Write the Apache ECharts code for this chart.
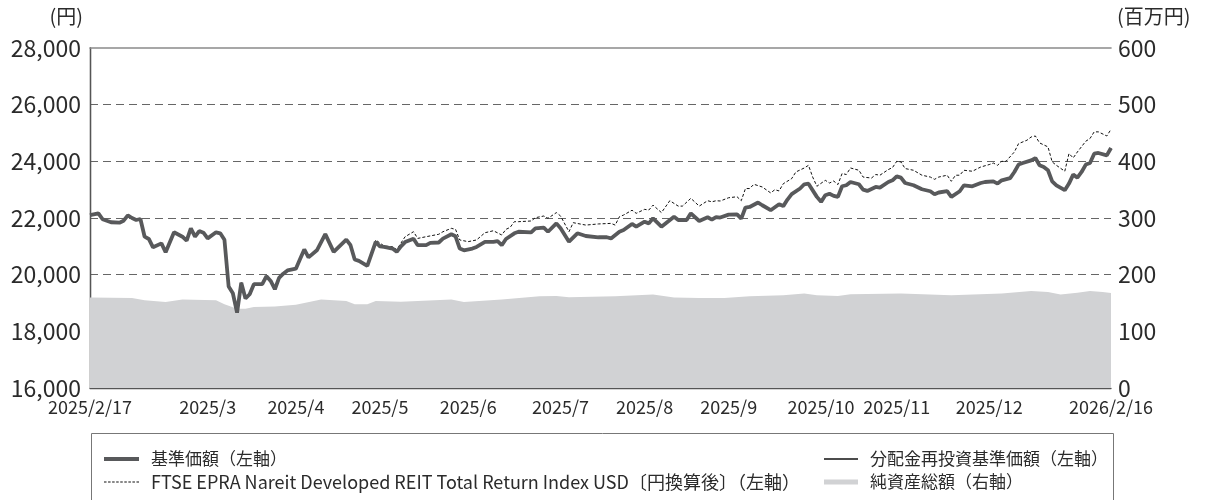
<!DOCTYPE html>
<html>
<head>
<meta charset="utf-8">
<script src="https://cdn.jsdelivr.net/npm/echarts@6/dist/echarts.min.js"></script>
<style>
  html, body { margin: 0; padding: 0; background: #fff; }
  #chart { width: 1209px; height: 500px; }
</style>
</head>
<body>
<div id="chart"></div>
<script>
// x values are trading-day numbers counted from 2025/2/17 (0) to 2026/2/16 (243)
const labelDays = [0, 28, 49, 69, 90, 112, 132, 152, 174, 192, 214, 243]
const labelTexts = ['2025/2/17', '2025/3', '2025/4', '2025/5', '2025/6', '2025/7', '2025/8', '2025/9', '2025/10', '2025/11', '2025/12', '2026/2/16']
const tickDays = [28, 49, 69, 90, 112, 132, 152, 174, 192, 214]

// 基準価額 (円)
const nav = [
  [0, 22100], [2, 22165], [3, 21955], [5, 21850], [7, 21835], [8, 21905], [9, 22095], [10, 22000], [11, 21930], [12, 21965],
  [13, 21340], [14, 21260], [15, 20965], [17, 21105], [18, 20790], [20, 21495], [22, 21340], [23, 21200], [24, 21635], [25, 21340],
  [26, 21540], [27, 21480], [28, 21280], [30, 21495], [31, 21460], [32, 21230], [33, 19580], [34, 19345], [35, 18660], [36, 19715],
  [37, 19160], [38, 19310], [39, 19665], [41, 19665], [42, 19945], [43, 19780], [44, 19485], [45, 19890], [46, 20035], [47, 20150],
  [49, 20210], [50, 20550], [51, 20890], [52, 20610], [54, 20860], [56, 21430], [58, 20805], [61, 21240], [62, 21040], [63, 20535],
  [64, 20485], [66, 20310], [68, 21155], [69, 21000], [70, 20980], [72, 20920], [73, 20805], [74, 21000], [75, 21150], [77, 21270],
  [78, 21040], [80, 21040], [81, 21120], [83, 21135], [84, 21270], [86, 21425], [87, 21355], [88, 20920], [89, 20860], [91, 20920],
  [92, 20980], [94, 21155], [96, 21155], [97, 21180], [98, 21040], [99, 21260], [101, 21460], [102, 21515], [105, 21495], [106, 21635],
  [108, 21660], [109, 21515], [111, 21810], [112, 21635], [114, 21165], [116, 21460], [118, 21365], [121, 21320], [123, 21320], [124, 21280],
  [126, 21515], [127, 21575], [129, 21790], [130, 21695], [132, 21870], [133, 21810], [134, 21990], [136, 21695], [139, 22045], [140, 21930],
  [142, 21930], [143, 22165], [145, 21895], [147, 22025], [148, 21945], [149, 22035], [150, 22015], [152, 22120], [154, 22130], [155, 21980],
  [156, 22370], [157, 22390], [159, 22545], [160, 22450], [162, 22275], [164, 22485], [165, 22420], [166, 22650], [167, 22840], [169, 23040],
  [170, 23190], [171, 23210], [173, 22745], [174, 22570], [175, 22800], [176, 22855], [177, 22780], [178, 22745], [179, 23120], [180, 23155],
  [181, 23270], [183, 23190], [184, 23000], [185, 22955], [187, 23095], [188, 23075], [190, 23270], [191, 23330], [192, 23470], [193, 23425],
  [194, 23235], [196, 23155], [198, 23015], [200, 22945], [201, 22840], [202, 22900], [204, 22945], [205, 22745], [207, 22945], [208, 23155],
  [210, 23120], [212, 23235], [213, 23270], [215, 23295], [216, 23215], [217, 23330], [219, 23410], [220, 23625], [221, 23885], [222, 23940],
  [224, 24035], [225, 24115], [226, 23860], [227, 23800], [228, 23685], [229, 23295], [230, 23155], [232, 22980], [233, 23215], [234, 23530],
  [235, 23425], [236, 23625], [237, 23885], [238, 23940], [239, 24270], [240, 24295], [242, 24210], [243, 24470],
]

// 分配金再投資基準価額: no distributions in the period, drawn right under the NAV line
const reinvested = nav

// FTSE index: sits on the NAV line until mid-May, then runs above it
const reitIndex = nav.filter(p => p[0] <= 66).concat([
  [68, 21225], [70, 21010], [72, 20985], [73, 20885], [75, 21340], [77, 21515], [78, 21280], [80, 21340], [83, 21425], [84, 21515],
  [86, 21635], [87, 21600], [88, 21225], [90, 21165], [92, 21225], [94, 21480], [96, 21550], [98, 21400], [99, 21600], [100, 21670],
  [101, 21870], [102, 21870], [105, 21895], [106, 22010], [108, 22070], [109, 21990], [111, 22190], [112, 22070], [114, 21515], [115, 21835],
  [118, 21750], [121, 21790], [124, 21810], [125, 21750], [126, 22045], [127, 22105], [129, 22275], [130, 22165], [132, 22305], [133, 22280],
  [134, 22455], [136, 22190], [138, 22610], [140, 22420], [141, 22420], [143, 22695], [145, 22420], [147, 22610], [148, 22570], [149, 22610],
  [150, 22600], [152, 22715], [154, 22750], [155, 22610], [156, 23040], [157, 23040], [158, 23190], [160, 23095], [162, 22885], [163, 23000],
  [164, 22955], [165, 23210], [167, 23390], [168, 23625], [170, 23765], [171, 23860], [172, 23445], [173, 23120], [175, 23330], [176, 23235],
  [177, 23305], [178, 23180], [179, 23570], [180, 23535], [181, 23765], [183, 23685], [184, 23445], [186, 23410], [187, 23535], [188, 23510],
  [190, 23710], [191, 23780], [192, 24000], [193, 23980], [194, 23745], [196, 23685], [198, 23510], [200, 23445], [201, 23365], [202, 23445],
  [204, 23510], [205, 23295], [206, 23510], [207, 23510], [208, 23685], [210, 23650], [212, 23800], [214, 23885], [215, 23940], [216, 23860],
  [217, 24000], [218, 24000], [220, 24330], [221, 24625], [223, 24745], [224, 24860], [225, 24895], [226, 24650], [228, 24510], [229, 23980],
  [230, 23860], [232, 23650], [233, 24275], [234, 24120], [235, 24330], [237, 24710], [238, 24805], [239, 25040], [240, 25040], [242, 24895],
  [243, 25130],
])

// 純資産総額 (百万円)
const netAssets = [
  [0, 159.5], [10, 158.8], [13, 154.8], [18, 151.8], [22, 156], [30, 154.8], [32, 147.7], [35, 140], [37, 140], [39, 143],
  [44, 144], [49, 147], [55, 156], [61, 153.5], [63, 147.7], [66, 147.7], [68, 153.5], [74, 152], [86, 156], [89, 151.8],
  [98, 156], [107, 161.8], [111, 162.4], [114, 160], [125, 161.8], [134, 164.8], [139, 159.5], [145, 158.8], [151, 158.8], [157, 161.8],
  [165, 163.6], [170, 166.6], [173, 163.6], [178, 162.4], [181, 165.4], [193, 166.6], [205, 163.6], [217, 166.6], [224, 171.2], [228, 169.4],
  [231, 164.8], [235, 168.3], [238, 171.2], [241, 169.4], [243, 167.7],
]

const NAME_NAV = '基準価額（左軸）'
const NAME_REINV = '分配金再投資基準価額（左軸）'
const NAME_INDEX = 'FTSE EPRA Nareit Developed REIT Total Return Index USD〔円換算後〕（左軸）'
const NAME_ASSETS = '純資産総額（右軸）'

const FONT = '"Noto Sans CJK JP", "Noto Sans", sans-serif'
const TEXT = '#2b2b2b'
const AXIS = '#555'
const NAV_COLOR = '#58595b'
const AREA_COLOR = '#d1d2d4'

// short dashes for the index legend key
const DASH_ICON = 'path://M0,0h2.5v1h-2.5zM4,0h2.5v1h-2.5zM8,0h2.5v1h-2.5zM12,0h2.5v1h-2.5zM16,0h2.5v1h-2.5zM20,0h2.5v1h-2.5zM24,0h2.5v1h-2.5zM28,0h2.5v1h-2.5zM32,0h2.5v1h-2.5z'

const legendText = size => ({ fontSize: size, color: TEXT, fontFamily: FONT, lineHeight: 20, padding: [0, 0, 0, 7] })

const chart = echarts.init(document.getElementById('chart'), null, { renderer: 'canvas' })

chart.setOption({
  animation: false,
  textStyle: { fontFamily: FONT },
  grid: { left: 90, right: 98, top: 48, bottom: 112, outerBoundsMode: 'none' },
  legend: [
    {
      left: 99, top: 444, itemWidth: 35, itemHeight: 3.8,
      data: [{ name: NAME_NAV, icon: 'rect', itemStyle: { color: NAV_COLOR } }],
      textStyle: legendText(17),
    },
    {
      left: 99, top: 467, itemWidth: 35, itemHeight: 1.2,
      data: [{ name: NAME_INDEX, icon: DASH_ICON, itemStyle: { color: '#111' } }],
      textStyle: legendText(18),
    },
    {
      left: 819, top: 444, itemWidth: 34, itemHeight: 1.6,
      data: [{ name: NAME_REINV, icon: 'rect', itemStyle: { color: '#111' } }],
      textStyle: legendText(17),
    },
    {
      left: 819, top: 467, itemWidth: 34, itemHeight: 5,
      data: [{ name: NAME_ASSETS, icon: 'rect', itemStyle: { color: AREA_COLOR } }],
      textStyle: legendText(17),
    },
  ],
  graphic: [
    {
      type: 'rect', left: 89, top: 431, silent: true,
      shape: { width: 1022, height: 90 },
      style: { fill: 'none', stroke: '#777', lineWidth: 1 },
    },
    {
      type: 'text', right: 1126, top: 6, silent: true,
      style: { text: '(円)', fill: TEXT, font: '20px "Noto Sans CJK JP"' },
    },
    {
      type: 'text', left: 1117, top: 6, silent: true,
      style: { text: '(百万円)', fill: TEXT, font: '20px "Noto Sans CJK JP"' },
    },
  ],
  xAxis: [
    {
      type: 'value', min: 0, max: 243, position: 'bottom',
      axisLine: { show: true, onZero: false, lineStyle: { color: AXIS, width: 1.3 } },
      axisTick: { show: true, inside: true, length: 7, customValues: tickDays, lineStyle: { color: AXIS, width: 1.3 } },
      axisLabel: {
        customValues: labelDays,
        formatter: v => labelTexts[labelDays.indexOf(v)] || '',
        fontSize: 18, color: TEXT, margin: 10, fontFamily: FONT,
      },
      splitLine: { show: false },
    },
    {
      type: 'value', min: 0, max: 243, position: 'top',
      axisLine: { show: true, onZero: false, lineStyle: { color: '#8a8a8a', width: 1.6 } },
      axisTick: { show: false }, axisLabel: { show: false }, splitLine: { show: false },
    },
  ],
  yAxis: [
    {
      type: 'value', min: 16000, max: 28000, interval: 2000, position: 'left',
      axisLine: { show: true, lineStyle: { color: AXIS, width: 1.3 } },
      axisTick: { show: false },
      axisLabel: { fontSize: 23, color: TEXT, margin: 9, fontFamily: FONT, formatter: v => v.toLocaleString('en-US') },
      splitLine: { show: true, showMinLine: false, showMaxLine: false, lineStyle: { color: '#666', width: 1.2, type: [8, 5] } },
    },
    {
      type: 'value', min: 0, max: 600, interval: 100, position: 'right',
      axisLine: { show: true, lineStyle: { color: AXIS, width: 1.3 } },
      axisTick: { show: false },
      axisLabel: { fontSize: 23, color: TEXT, margin: 7, fontFamily: FONT },
      splitLine: { show: false },
    },
  ],
  series: [
    {
      name: NAME_ASSETS, type: 'line', yAxisIndex: 1, data: netAssets,
      symbol: 'none', lineStyle: { width: 0 }, itemStyle: { color: AREA_COLOR },
      areaStyle: { color: AREA_COLOR, opacity: 1 }, z: 1,
    },
    {
      name: NAME_INDEX, type: 'line', data: reitIndex, symbol: 'none',
      lineStyle: { color: '#111', width: 1, type: [3, 2] }, itemStyle: { color: '#111' }, z: 2,
    },
    {
      name: NAME_REINV, type: 'line', data: reinvested, symbol: 'none',
      lineStyle: { color: '#111', width: 1.5 }, itemStyle: { color: '#111' }, z: 2,
    },
    {
      name: NAME_NAV, type: 'line', data: nav, symbol: 'none',
      lineStyle: { color: NAV_COLOR, width: 3.8 }, itemStyle: { color: NAV_COLOR }, z: 3,
    },
  ],
})
</script>
</body>
</html>
